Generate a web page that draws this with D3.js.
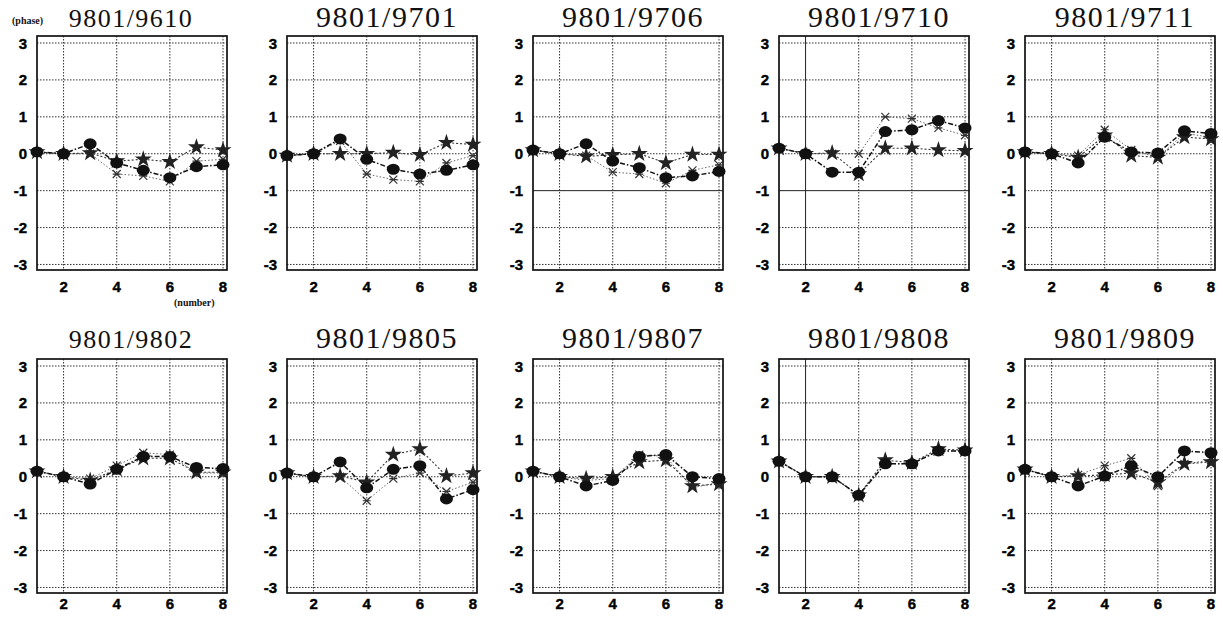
<!DOCTYPE html>
<html>
<head>
<meta charset="utf-8">
<script src="https://cdn.jsdelivr.net/npm/d3@7"></script>
<style>
    body { margin: 0; background: #fff; }
    svg { display: block; }
    .title { font-family: 'Liberation Serif', 'Times New Roman', serif; fill: #111; text-anchor: middle; letter-spacing: 1.5px; }
    .tick { font-family: 'Liberation Sans', Arial, sans-serif; font-weight: 700; font-size: 15px; fill: #000; stroke: #000; stroke-width: 0.4px; }
    .unit { font-family: 'Liberation Serif', serif; font-weight: bold; font-size: 10px; fill: #111; }
    .grid { stroke: #333; stroke-width: 1; stroke-dasharray: 1.5, 1.5; }
    .grid.solid { stroke: #222; stroke-dasharray: none; }
    .frame { fill: none; stroke: #111; stroke-width: 1.7; }
</style>
</head>
<body>
<svg id="chart" width="1223" height="620"></svg>
<script>
// titulos de cada panel (fila superior y luego inferior)
const titles = ["9801/9610", "9801/9701", "9801/9706", "9801/9710", "9801/9711",
                "9801/9802", "9801/9805", "9801/9807", "9801/9808", "9801/9809"];
const numbers = [1, 2, 3, 4, 5, 6, 7, 8];
const yTicks = [-3, -2, -1, 0, 1, 2, 3];
const xTicks = [2, 4, 6, 8];

// serie con circulos rellenos
const circleVals = [
    [0.05, 0, 0.27, -0.25, -0.45, -0.65, -0.35, -0.3],
    [-0.05, 0, 0.4, -0.15, -0.42, -0.55, -0.45, -0.3],
    [0.1, 0, 0.27, -0.2, -0.38, -0.65, -0.6, -0.48],
    [0.15, 0, -0.5, -0.5, 0.6, 0.65, 0.9, 0.7],
    [0.05, 0, -0.25, 0.45, 0.05, 0.02, 0.62, 0.55],
    [0.15, 0, -0.2, 0.2, 0.55, 0.55, 0.25, 0.22],
    [0.1, 0, 0.4, -0.3, 0.2, 0.3, -0.6, -0.35],
    [0.15, 0, -0.25, -0.1, 0.55, 0.6, 0.0, -0.05],
    [0.42, 0, 0.0, -0.5, 0.35, 0.35, 0.7, 0.7],
    [0.2, 0, -0.25, 0.02, 0.3, 0.0, 0.7, 0.65]
];
// serie con estrellas
const starVals = [
    [0.05, 0, 0.02, -0.2, -0.15, -0.22, 0.18, 0.1],
    [-0.05, 0, 0.0, 0.0, 0.03, -0.03, 0.3, 0.25],
    [0.1, 0, -0.07, -0.03, 0.0, -0.25, -0.02, -0.02],
    [0.15, 0, 0.02, -0.55, 0.15, 0.15, 0.1, 0.08],
    [0.05, 0, -0.1, 0.5, -0.05, -0.1, 0.45, 0.4],
    [0.15, 0, -0.1, 0.2, 0.5, 0.5, 0.12, 0.12],
    [0.1, 0, 0.02, -0.15, 0.6, 0.75, 0.02, 0.1],
    [0.15, 0, -0.05, 0.0, 0.4, 0.45, -0.25, -0.2],
    [0.42, 0, 0.0, -0.5, 0.45, 0.38, 0.75, 0.72],
    [0.2, 0, 0.02, 0.05, 0.1, -0.15, 0.35, 0.4]
];
// serie con cruces
const crossVals = [
    [0.05, 0, 0.0, -0.55, -0.6, -0.75, -0.2, -0.15],
    [-0.05, 0, 0.35, -0.55, -0.7, -0.75, -0.25, -0.05],
    [0.1, 0, -0.05, -0.5, -0.55, -0.8, -0.45, -0.3],
    [0.15, 0, 0.0, 0.0, 1.0, 0.95, 0.7, 0.5],
    [0.05, 0, -0.05, 0.65, 0.1, -0.1, 0.55, 0.45],
    [0.15, 0, -0.05, 0.3, 0.65, 0.6, 0.1, 0.1],
    [0.1, 0, 0.0, -0.65, -0.05, 0.1, -0.4, -0.15],
    [0.15, 0, -0.1, -0.05, 0.6, 0.55, -0.3, -0.15],
    [0.42, 0, 0.0, -0.5, 0.35, 0.35, 0.7, 0.7],
    [0.2, 0, 0.05, 0.3, 0.5, -0.25, 0.35, 0.45]
];

// lineas de rejilla que en el original salen continuas
const solidGrid = [
    { panel: 2, axis: "y", value: -1 },
    { panel: 3, axis: "y", value: -1 },
    { panel: 3, axis: "x", value: 2 },
    { panel: 8, axis: "x", value: 2 }
];

const svg = d3.select("#chart");

const colLeft = [37, 287, 533, 779, 1025];
const rowTop = [36, 359];
const titleBase = [27, 348];
const xLabelGap = [22, 16];
const panelW = 190;
const panelH = 234;

// marca en forma de aspa con barra horizontal
const cross = {
    draw(ctx, size) {
        const r = Math.sqrt(size) / 2;
        ctx.moveTo(-r, -r); ctx.lineTo(r, r);
        ctx.moveTo(-r, r); ctx.lineTo(r, -r);
        ctx.moveTo(-r, 0); ctx.lineTo(r, 0);
    }
};

const seriesDefs = [
    { vals: crossVals, line: { stroke: "#666", width: 1, dash: "1.5,2" }, marker: "cross" },
    { vals: starVals, line: { stroke: "#333", width: 1.1, dash: "2,2" }, marker: "star" },
    { vals: circleVals, line: { stroke: "#111", width: 1.5, dash: "5,2,1.5,2" }, marker: "circle" }
];

titles.forEach((title, i) => {
    const row = Math.floor(i / 5);
    const col = i % 5;
    const left = colLeft[col];
    const top = rowTop[row];

    const x = d3.scaleLinear().domain([1, 8.15]).range([left, left + panelW]);
    const y = d3.scaleLinear().domain([-3.15, 3.19]).range([top + panelH, top]);

    const g = svg.append("g");

    // rejilla punteada
    g.selectAll(".gy").data(yTicks).enter().append("line")
        .attr("class", d => "grid" + (solidGrid.some(s => s.panel === i && s.axis === "y" && s.value === d) ? " solid" : ""))
        .attr("x1", left).attr("x2", left + panelW)
        .attr("y1", d => y(d)).attr("y2", d => y(d));
    g.selectAll(".gx").data(xTicks).enter().append("line")
        .attr("class", d => "grid" + (solidGrid.some(s => s.panel === i && s.axis === "x" && s.value === d) ? " solid" : ""))
        .attr("x1", d => x(d)).attr("x2", d => x(d))
        .attr("y1", top).attr("y2", top + panelH);

    g.append("rect").attr("class", "frame")
        .attr("x", left).attr("y", top).attr("width", panelW).attr("height", panelH);

    // etiquetas de los ejes
    g.selectAll(".ty").data(yTicks).enter().append("text")
        .attr("class", "tick")
        .attr("x", left - 10)
        .attr("y", d => y(d) + 5.5)
        .attr("text-anchor", "end")
        .text(d => d);
    g.selectAll(".tx").data(xTicks).enter().append("text")
        .attr("class", "tick")
        .attr("x", d => x(d))
        .attr("y", top + panelH + xLabelGap[row])
        .attr("text-anchor", "middle")
        .text(d => d);

    g.append("text").attr("class", "title")
        .attr("x", left + (col === 0 ? 94 : 100))
        .attr("y", titleBase[row])
        .style("font-size", col === 0 ? "26px" : "30px")
        .text(title);

    // series
    seriesDefs.forEach(s => {
        const pts = s.vals[i].map((v, k) => [numbers[k], v]);
        const line = d3.line().x(d => x(d[0])).y(d => y(d[1]));
        g.append("path")
            .attr("d", line(pts))
            .attr("fill", "none")
            .attr("stroke", s.line.stroke)
            .attr("stroke-width", s.line.width)
            .attr("stroke-dasharray", s.line.dash);

        const m = g.selectAll(null).data(pts).enter();
        if (s.marker === "circle") {
            m.append("ellipse")
                .attr("cx", d => x(d[0])).attr("cy", d => y(d[1]))
                .attr("rx", 6.5).attr("ry", 5.5)
                .attr("fill", "#111");
        } else if (s.marker === "star") {
            m.append("path")
                .attr("transform", d => `translate(${x(d[0])},${y(d[1])})`)
                .attr("d", d3.symbol().type(d3.symbolStar).size(90))
                .attr("fill", "#222");
        } else {
            m.append("path")
                .attr("transform", d => `translate(${x(d[0])},${y(d[1])})`)
                .attr("d", d3.symbol().type(cross).size(64))
                .attr("fill", "none")
                .attr("stroke", "#333")
                .attr("stroke-width", 1.2);
        }
    });
});

// unidades del primer panel
svg.append("text").attr("class", "unit").attr("x", 12).attr("y", 24).text("(phase)");
svg.append("text").attr("class", "unit").attr("x", 174).attr("y", 306).text("(number)");
</script>
</body>
</html>
